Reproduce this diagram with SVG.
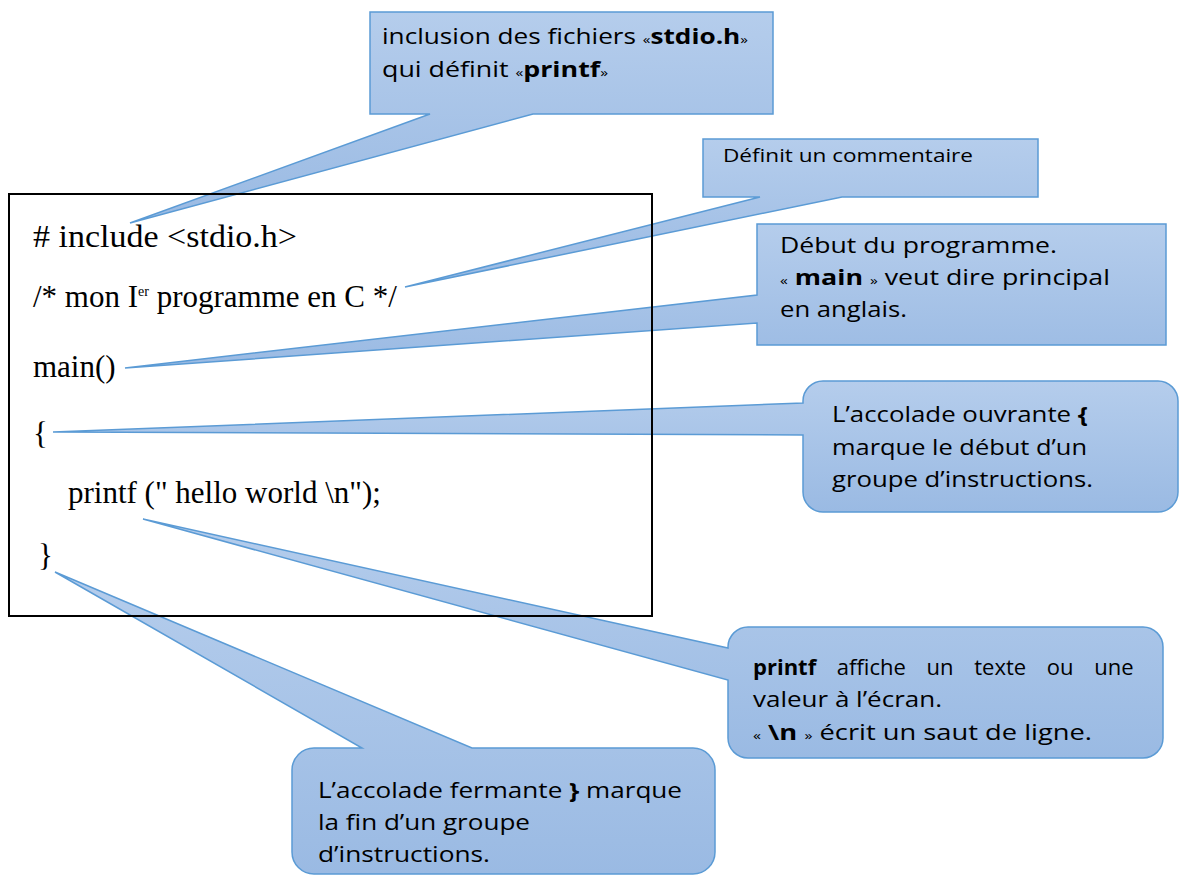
<svg xmlns="http://www.w3.org/2000/svg" width="1179" height="876" viewBox="0 0 1179 876">
<defs>
<linearGradient id="g" x1="0" y1="0" x2="0" y2="1">
<stop offset="0" stop-color="#B5CDEC"/>
<stop offset="1" stop-color="#9ABAE3"/>
</linearGradient>
<style>
.co{fill:url(#g);stroke:#5B9BD5;stroke-width:1.5;stroke-linejoin:miter}
.ct{font-family:"Open Sans","DejaVu Sans",sans-serif;font-size:22px;fill:#000}
.b{font-weight:bold}
.q{font-size:13px}
.code{font-family:"Liberation Serif","DejaVu Serif",serif;font-size:31px;fill:#000}
</style>
</defs>
<rect width="1179" height="876" fill="#fff"/>
<g id="callout-include">
<path class="co" d="M370,12 H773 V114 H533 L130,223 L430,114 H370 Z"/>
<text class="ct" x="382" y="44" textLength="366" lengthAdjust="spacingAndGlyphs">inclusion des fichiers <tspan class="q">«</tspan><tspan class="b">stdio.h</tspan><tspan class="q">»</tspan></text>
<text class="ct" x="382" y="77" textLength="226" lengthAdjust="spacingAndGlyphs">qui définit <tspan class="q">«</tspan><tspan class="b">printf</tspan><tspan class="q">»</tspan></text>
</g>
<g id="callout-comment">
<path class="co" d="M703,139 H1038 V197 H842 L405,287 L760,197 H703 Z"/>
<text class="ct" x="723" y="162" style="font-size:18px" textLength="250" lengthAdjust="spacingAndGlyphs">Définit un commentaire</text>
</g>
<g id="callout-main">
<path class="co" d="M757,224 H1166 V345 H757 V323 L125,368 L757,295 Z"/>
<text class="ct" x="780" y="253" textLength="277" lengthAdjust="spacingAndGlyphs">Début du programme.</text>
<text class="ct" x="780" y="285" textLength="330" lengthAdjust="spacingAndGlyphs"><tspan class="q">«</tspan> <tspan class="b">main</tspan> <tspan class="q">»</tspan> veut dire principal</text>
<text class="ct" x="780" y="317" textLength="127" lengthAdjust="spacingAndGlyphs">en anglais.</text>
</g>
<g id="callout-open-brace">
<path class="co" d="M803,401 A20,20 0 0 1 823,381 H1158 A20,20 0 0 1 1178,401 V492 A20,20 0 0 1 1158,512 H823 A20,20 0 0 1 803,492 V435 L53,432 L803,403 Z"/>
<text class="ct" x="832" y="422" textLength="256" lengthAdjust="spacingAndGlyphs">L’accolade ouvrante <tspan class="b">{</tspan></text>
<text class="ct" x="832" y="455" textLength="255" lengthAdjust="spacingAndGlyphs">marque le début d’un</text>
<text class="ct" x="832" y="487" textLength="261" lengthAdjust="spacingAndGlyphs">groupe d’instructions.</text>
</g>
<g id="callout-printf">
<path class="co" d="M728,647 A20,20 0 0 1 748,627 H1143 A20,20 0 0 1 1163,647 V738 A20,20 0 0 1 1143,758 H748 A20,20 0 0 1 728,738 V680 L143,519 L728,648 Z"/>
<text class="ct" x="753" y="675" word-spacing="15"><tspan class="b">printf</tspan> affiche un texte ou une</text>
<text class="ct" x="753" y="707" textLength="189" lengthAdjust="spacingAndGlyphs">valeur à l’écran.</text>
<text class="ct" x="753" y="740" textLength="339" lengthAdjust="spacingAndGlyphs"><tspan class="q">«</tspan> <tspan class="b">\n</tspan> <tspan class="q">»</tspan> écrit un saut de ligne.</text>
</g>
<g id="callout-close-brace">
<path class="co" d="M292,770 A22,22 0 0 1 314,748 H362 L55,572 L472,748 H693 A22,22 0 0 1 715,770 V852 A22,22 0 0 1 693,874 H314 A22,22 0 0 1 292,852 Z"/>
<text class="ct" x="318" y="798" textLength="364" lengthAdjust="spacingAndGlyphs">L’accolade fermante <tspan class="b">}</tspan> marque</text>
<text class="ct" x="318" y="830" textLength="212" lengthAdjust="spacingAndGlyphs">la fin d’un groupe</text>
<text class="ct" x="318" y="862" textLength="172" lengthAdjust="spacingAndGlyphs">d’instructions.</text>
</g>
<g id="code">
<rect x="9" y="194" width="643" height="422" fill="none" stroke="#000" stroke-width="2"/>
<text class="code" x="33" y="247" textLength="264" lengthAdjust="spacingAndGlyphs"># include &lt;stdio.h&gt;</text>
<text class="code" x="33" y="307">/* mon I<tspan font-size="14" dy="-11">er</tspan><tspan dy="11"> programme en C */</tspan></text>
<text class="code" x="33" y="377">main()</text>
<text class="code" x="33" y="444">{</text>
<text class="code" x="68" y="503">printf (" hello world \n");</text>
<text class="code" x="38" y="566">}</text>
</g>
</svg>
